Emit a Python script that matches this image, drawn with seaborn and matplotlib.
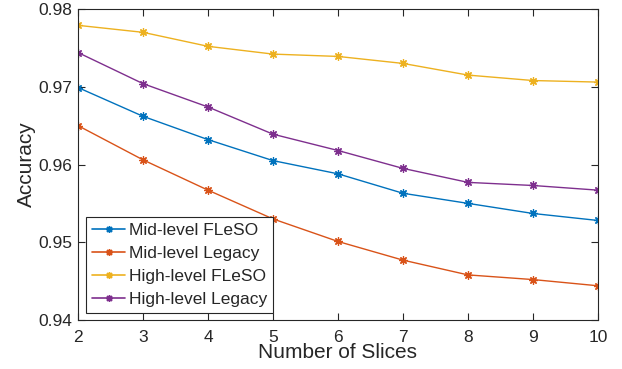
import numpy as np
import pandas as pd
import matplotlib
matplotlib.use("Agg")
import matplotlib.pyplot as plt
import seaborn as sns

slices = [2, 3, 4, 5, 6, 7, 8, 9, 10]
mid_fleso = [0.9699, 0.9662, 0.9632, 0.9605, 0.9588, 0.9563, 0.9550, 0.9537, 0.9528]
mid_legacy = [0.9650, 0.9606, 0.9567, 0.9530, 0.9501, 0.9477, 0.9458, 0.9452, 0.9444]
high_fleso = [0.9779, 0.9770, 0.9752, 0.9742, 0.9739, 0.9730, 0.9715, 0.9708, 0.9706]
high_legacy = [0.9744, 0.9704, 0.9674, 0.9639, 0.9618, 0.9595, 0.9577, 0.9573, 0.9567]
series_names = ["Mid-level FLeSO", "Mid-level Legacy", "High-level FLeSO", "High-level Legacy"]
series_vals = [mid_fleso, mid_legacy, high_fleso, high_legacy]
colors = ["#0072BD", "#D95319", "#EDB120", "#7E2F8E"]
yticks = [0.94, 0.95, 0.96, 0.97, 0.98]

df = pd.DataFrame({
    "Slices": slices * 4,
    "Accuracy": sum(series_vals, []),
    "Series": sum([[n] * len(slices) for n in series_names], []),
})

sns.set_style("white")
plt.rcParams["font.family"] = ["Liberation Sans", "DejaVu Sans"]

fig = plt.figure(figsize=(6.22, 3.69), dpi=100)
ax = fig.add_axes([0.1254, 0.1328, 0.836, 0.8428])
sns.lineplot(data=df, x="Slices", y="Accuracy", hue="Series", hue_order=series_names,
             palette=colors, linewidth=1.0, ax=ax, legend=True)

asterisk = (8, 2, 0)
for line in ax.lines:
    line.set_linestyle("-")
    line.set_marker(asterisk)
    line.set_markersize(6)
    line.set_markeredgewidth(0.9)
    line.set_markeredgecolor(line.get_color())

ax.set_xlim(2, 10)
ax.set_ylim(0.94, 0.98)
ax.set_xticks(slices)
ax.set_yticks(yticks)
ax.set_yticklabels([f"{v:.2f}" for v in yticks])
ax.tick_params(direction="in", length=5, width=0.8, colors="#262626",
               labelsize=12.5, top=True, right=True, labelcolor="#262626")
ax.tick_params(axis="x", pad=7)
ax.tick_params(axis="y", pad=4)
ax.xaxis.set_ticks_position("both")
ax.yaxis.set_ticks_position("both")
for s in ax.spines.values():
    s.set_visible(True)
    s.set_color("#262626")
    s.set_linewidth(0.8)
ax.set_xlabel("Number of Slices", fontsize=15, color="#262626", labelpad=-1)
ax.set_ylabel("Accuracy", fontsize=15, color="#262626", labelpad=2)

leg = ax.legend(loc="lower left", bbox_to_anchor=(0.0154, 0.0225), fontsize=12.5,
                frameon=True, fancybox=False, edgecolor="#262626", framealpha=1,
                handlelength=1.9, handletextpad=0.2, borderpad=0.35, labelspacing=0.45,
                borderaxespad=0.0, numpoints=1)
leg.get_frame().set_linewidth(0.8)
for h in leg.get_lines():
    h.set_linestyle("-")
    h.set_marker(asterisk)
    h.set_markersize(5)
    h.set_markeredgewidth(1.0)
    h.set_markeredgecolor(h.get_color())
    h.set_linewidth(1.2)

fig.savefig("out.png", dpi=100)
